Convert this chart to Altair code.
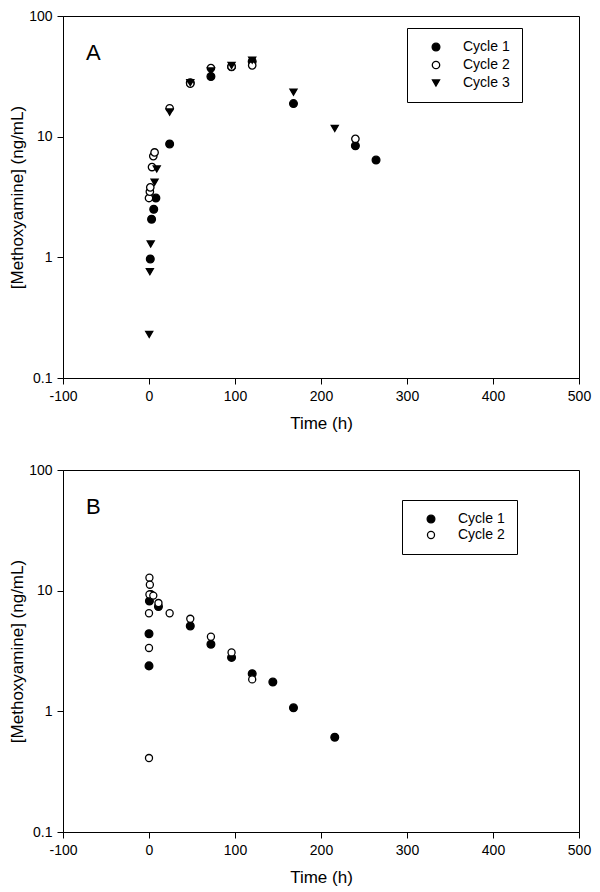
import altair as alt
import pandas as pd

# ---------------- Panel A data ----------------
a_c1_t = [1.5, 3, 5.5, 8, 24, 48, 72, 96, 120, 168, 240, 264]
a_c1_v = [0.97, 2.07, 2.5, 3.1, 8.7, 28, 31.5, 38, 42, 18.8, 8.4, 6.4]
a_c2_t = [0, 1, 1.5, 3.5, 5, 6.5, 24, 48, 72, 96, 120, 240]
a_c2_v = [3.1, 3.5, 3.8, 5.6, 6.9, 7.4, 17.2, 27.5, 37, 38, 39, 9.6]
a_c3_t = [0.25, 1, 2, 6.5, 9, 24, 48, 72, 96, 120, 168, 216]
a_c3_v = [0.23, 0.76, 1.29, 4.2, 5.4, 16, 28, 35, 39, 43, 23.4, 11.7]

# ---------------- Panel B data ----------------
b_c1_t = [0, 0, 0.5, 2, 11, 48, 72, 96, 120, 144, 168, 216]
b_c1_v = [2.38, 4.4, 8.2, 9.3, 7.4, 5.1, 3.6, 2.8, 2.05, 1.75, 1.07, 0.61]
b_c2_t = [0, 0, 0, 0.5, 1, 0.5, 5, 11, 24, 48, 72, 96, 120]
b_c2_v = [0.41, 3.35, 6.5, 12.8, 11.2, 9.3, 9.1, 7.9, 6.5, 5.85, 4.15, 3.08, 1.84]

cycles = ["Cycle 1", "Cycle 2", "Cycle 3"]
x_ticks = [-100, 0, 100, 200, 300, 400, 500]
y_ticks = [0.1, 1, 10, 100]

FONT = "Liberation Sans"


def make_df(series):
    rows = []
    for k, (name, ts, vs) in enumerate(series):
        for t, v in zip(ts, vs):
            rows.append({"t": t, "c": v, "cycle": name, "k": k})
    return pd.DataFrame(rows)


def panel(df, dom, shapes, fills, sizes, letter, lx, ly, rowpad):
    leg = alt.Legend(
        title=None, orient="none", legendX=lx, legendY=ly,
        strokeColor="black", padding=12,
        symbolOffset=10, labelOffset=20, rowPadding=rowpad,
        labelFontSize=14, labelFont=FONT, labelColor="black",
        symbolStrokeColor="black", symbolStrokeWidth=1.3,
    )
    pts = alt.Chart(df).mark_point(
        filled=True, strokeWidth=1.3, opacity=1
    ).encode(
        x=alt.X("t:Q", scale=alt.Scale(domain=[-100, 500], nice=False, zero=False),
                axis=alt.Axis(values=x_ticks, title="Time (h)", labelFlush=False,
                              labelExpr="'' + datum.value")),
        y=alt.Y("c:Q", scale=alt.Scale(type="log", domain=[0.1, 100], nice=False),
                axis=alt.Axis(values=y_ticks, format="~g",
                              title="[Methoxyamine] (ng/mL)")),
        shape=alt.Shape("cycle:N", scale=alt.Scale(domain=dom, range=shapes), legend=leg),
        fill=alt.Fill("cycle:N", scale=alt.Scale(domain=dom, range=fills), legend=leg),
        stroke=alt.Stroke("cycle:N", scale=alt.Scale(domain=dom, range=["black"] * len(dom)), legend=leg),
        size=alt.Size("cycle:N", scale=alt.Scale(domain=dom, range=sizes), legend=leg),
        order=alt.Order("k:Q"),
    )
    lab = alt.Chart(pd.DataFrame({"label": [letter]})).mark_text(
        align="left", baseline="alphabetic", fontSize=22, font=FONT, color="black"
    ).encode(text="label:N", x=alt.value(23), y=alt.value(44))
    return alt.layer(pts, lab).properties(width=516, height=362)


dfA = make_df([("Cycle 1", a_c1_t, a_c1_v), ("Cycle 2", a_c2_t, a_c2_v), ("Cycle 3", a_c3_t, a_c3_v)])
dfB = make_df([("Cycle 1", b_c1_t, b_c1_v), ("Cycle 2", b_c2_t, b_c2_v)])

chartA = panel(dfA, cycles, ["circle", "circle", "triangle-down"], ["black", "white", "black"],
               [60, 50, 80], "A", 344, 12, 4)
chartB = panel(dfB, cycles[:2], ["circle", "circle"], ["black", "white"],
               [60, 50], "B", 339, 30, 2)

chart = alt.vconcat(chartA, chartB, spacing=30).resolve_scale(
    shape="independent", fill="independent", stroke="independent", size="independent"
).resolve_legend(
    shape="independent", fill="independent", stroke="independent", size="independent"
).properties(
    padding={"left": 0, "top": 0, "right": 0, "bottom": 0}
).configure_view(
    stroke="black", strokeWidth=1
).configure_legend(
    strokeWidth=1
).configure_axis(
    grid=False, domainColor="black", domainWidth=1, tickColor="black", tickSize=6,
    labelFont=FONT, labelFontSize=14, labelColor="black", labelPadding=5,
    titleFont=FONT, titleFontSize=17, titleFontWeight="normal", titleColor="black",
).configure_axisX(titlePadding=12).configure_axisY(titlePadding=2)

chart.save("out.html", embed_options={"renderer": "svg", "actions": False})
